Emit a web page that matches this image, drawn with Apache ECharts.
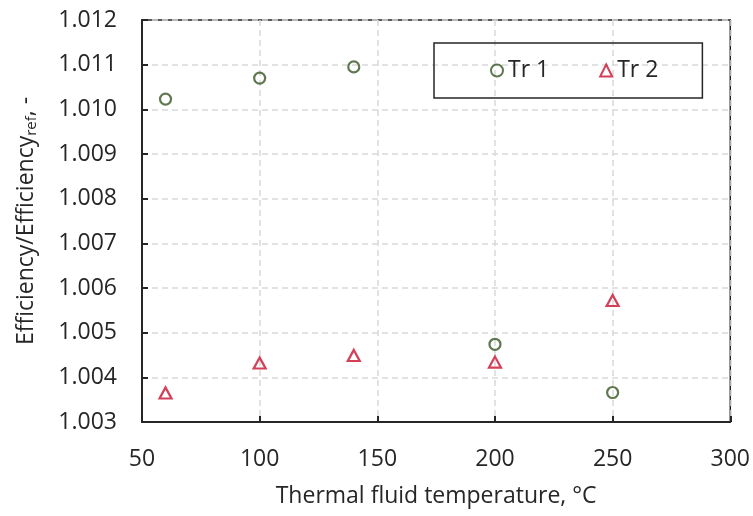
<!DOCTYPE html>
<html>
<head>
<meta charset="utf-8">
<script src="https://cdn.jsdelivr.net/npm/echarts@6/dist/echarts.min.js"></script>
<style>
  html, body { margin: 0; padding: 0; background: #fff; }
  #main { width: 753px; height: 516px; }
</style>
</head>
<body>
<div id="main"></div>
<script>
// 数据
var temps = [60, 100, 140, 200, 250];
var tr1 = [1.01023, 1.0107, 1.01095, 1.00474, 1.00366];
var tr2 = [1.00365, 1.00432, 1.00449, 1.00434, 1.00572];
var seriesNames = ['Tr 1', 'Tr 2'];

function pairs(xs, ys) {
    var out = [];
    for (var i = 0; i < xs.length; i++) {
        out.push([xs[i], ys[i]]);
    }
    return out;
}

var font = 'Open Sans';
var fs = 23;
var myChart = echarts.init(document.getElementById('main'));

var option = {
    backgroundColor: '#fff',
    animation: false,
    grid: {
        left: 142, right: 21, top: 20, bottom: 94,
        show: true,
        borderColor: '#262626',
        borderWidth: 1.5
    },
    legend: {
        data: seriesNames,
        left: 434,
        top: 43,
        orient: 'horizontal',
        itemWidth: 12,
        itemHeight: 12,
        itemGap: 50,
        padding: [16, 44, 16, 56],
        borderColor: '#262626',
        borderWidth: 1.5,
        textStyle: { fontFamily: font, fontSize: fs, color: '#262626' }
    },
    xAxis: {
        type: 'value',
        min: 50, max: 300, interval: 50,
        name: 'Thermal fluid temperature, °C',
        nameLocation: 'middle',
        nameGap: 63,
        nameTextStyle: { fontFamily: font, fontSize: fs, color: '#262626' },
        axisLine: { lineStyle: { color: '#262626', width: 2 } },
        axisTick: { inside: true, length: 6, lineStyle: { color: '#262626', width: 2 } },
        axisLabel: { fontFamily: font, fontSize: fs, color: '#262626', margin: 26 },
        splitLine: { lineStyle: { color: '#d9d9d9', type: [6, 4], width: 1.5 } }
    },
    yAxis: {
        type: 'value',
        min: 1.003, max: 1.012, interval: 0.001,
        name: '{a|Efficiency/Efficiency}{b|ref}{a|, -}',
        nameLocation: 'middle',
        nameRotate: 90,
        nameGap: 103,
        nameTextStyle: {
            rich: {
                a: { fontFamily: font, fontSize: fs, color: '#262626' },
                b: { fontFamily: font, fontSize: 15, color: '#262626', verticalAlign: 'bottom', padding: [10, 0, 0, 0] }
            }
        },
        axisLine: { lineStyle: { color: '#262626', width: 2 } },
        axisTick: { inside: true, length: 6, lineStyle: { color: '#262626', width: 2 } },
        axisLabel: {
            fontFamily: font, fontSize: fs, color: '#262626', margin: 25,
            formatter: function (v) { return v.toFixed(3); }
        },
        splitLine: { lineStyle: { color: '#d9d9d9', type: [6, 4], width: 1.5 } }
    },
    series: [
        {
            name: 'Tr 1',
            type: 'scatter',
            data: pairs(temps, tr1),
            symbol: 'circle',
            symbolSize: 11,
            itemStyle: { color: 'rgba(0,0,0,0)', borderColor: '#375623', borderWidth: 2.2 }
        },
        {
            name: 'Tr 2',
            type: 'scatter',
            data: pairs(temps, tr2),
            symbol: 'triangle',
            symbolSize: [12, 11],
            itemStyle: { color: 'rgba(0,0,0,0)', borderColor: '#c8102e', borderWidth: 2.2 }
        }
    ]
};
myChart.setOption(option);
</script>
</body>
</html>
